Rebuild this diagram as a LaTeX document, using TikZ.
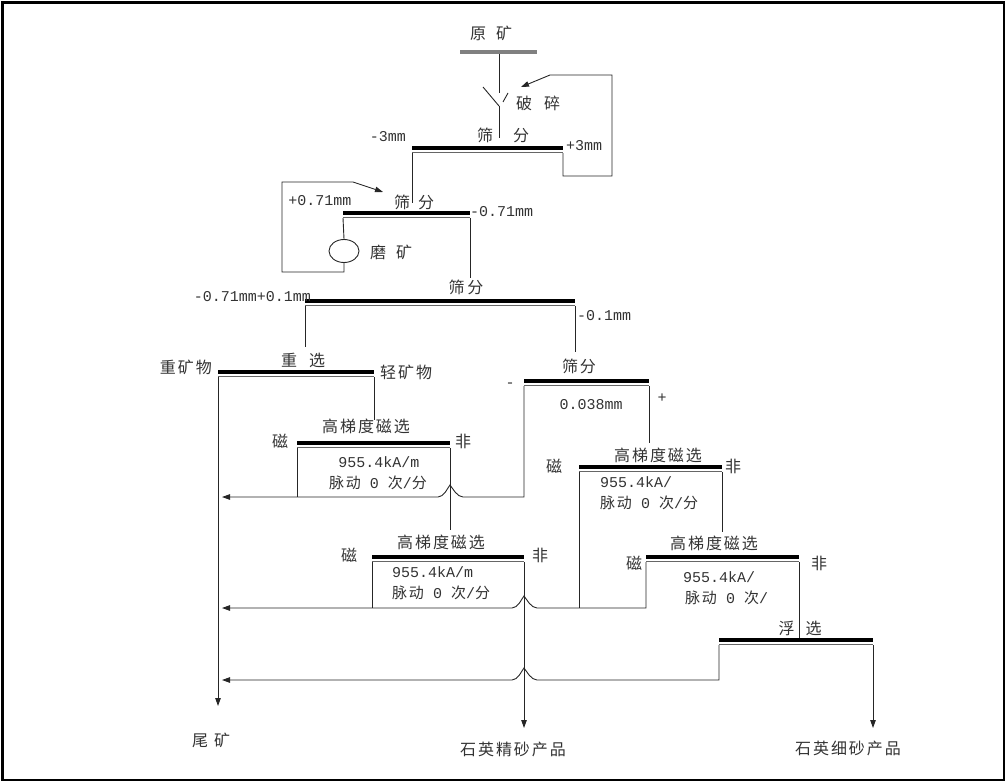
\documentclass[tikz,border=0pt]{standalone}
\usepackage{fontspec}
\setmainfont{Liberation Mono}
\newfontfamily\cjk[LetterSpace=12]{Noto Sans CJK SC}
\usetikzlibrary{arrows.meta,shapes.geometric}
\newcommand\sbar[4]{%
 \draw[barA] (#2,#4) -- (#3,#4);%
 \draw[barB] (#2,#4+4.5) -- (#3,#4+4.5);%
 \coordinate (#1L) at (#2,#4+5);%
 \coordinate (#1R) at (#3,#4+5);}
\newcommand\hopto[1]{-- ([xshift=13pt]#1) .. controls +(-6pt,0pt) and +(2.5pt,-3pt) .. ([yshift=12pt]#1) .. controls +(-2.5pt,-3pt) and +(6pt,0pt) .. ([xshift=-12pt]#1)}
\begin{document}
\begin{tikzpicture}[x=1pt,y=-1pt,
 lin/.style={line width=0.9pt,draw=black!85},
 arr/.style={lin,-{Triangle[length=8pt,width=5.5pt]}},
 barA/.style={line width=3.5pt,draw=black},
 barB/.style={line width=1.5pt,draw=black!60},
 zh/.style={font=\cjk\fontsize{16}{16}\selectfont,text=black!80,inner sep=0pt},
 en/.style={font=\fontsize{15}{15}\selectfont,text=black!80,inner sep=0pt}]
\useasboundingbox (0,0) rectangle (1006,782);
\draw[line width=2.5pt] (2.5,2.5) rectangle (1004,780);

% bars
\draw[line width=4.5pt,draw=black!50] (460,52) -- (537,52);
\coordinate (oreB) at (499,54);
\sbar{sA}{412}{563}{148}
\sbar{sB}{343}{470}{213}
\sbar{sC}{305}{575}{301}
\sbar{gv}{218}{374}{372}
\sbar{sD}{524}{649}{381}
\sbar{mA}{297}{450}{443}
\sbar{mB}{579}{722}{467}
\sbar{mC}{646}{799}{557}
\sbar{mD}{372}{524}{557}
\sbar{fl}{719}{873}{640}

% mill
\node[ellipse,draw=black!85,line width=0.9pt,minimum width=30pt,minimum height=23pt,inner sep=0pt] (mill) at (344,251) {};

% texts
\node[zh] (tOre) at (491,33) {原\hspace{10pt}矿};
\node[zh] (tCrush) at (538,103) {破\hspace{12pt}碎};
\node[zh] (tS1) at (503,135) {筛\hspace{20pt}分};
\node[zh] (tS2) at (414,202) {筛\hspace{8pt}分};
\node[zh] (tMill) at (391,252) {磨\hspace{10pt}矿};
\node[zh] (tS3) at (466,287) {筛\hspace{3pt}分};
\node[zh] (tGrav) at (303,360) {重\hspace{12pt}选};
\node[zh] (tS4) at (579,366) {筛分};
\node[zh,anchor=east] (tHeavy) at (212,367) {重矿物};
\node[zh,anchor=west] (tLight) at (380,372) {轻矿物};
\node[zh] (tM1) at (366,426) {高梯度磁选};
\node[zh] (tM1a) at (280,441) {磁};
\node[zh] (tM1b) at (463,441) {非};
\node[en] (tM1c) at (379,462) {955.4kA/m};
\node[en] (tM1d) at (378,483) {{\cjk 脉动} 0 {\cjk 次}/{\cjk 分}};
\node[zh] (tM2) at (658,455) {高梯度磁选};
\node[zh] (tM2a) at (554,466) {磁};
\node[zh] (tM2b) at (733,466) {非};
\node[en,anchor=west] (tM2c) at (600,482) {955.4kA/};
\node[en,anchor=west] (tM2d) at (600,503) {{\cjk 脉动} 0 {\cjk 次}/{\cjk 分}};
\node[zh] (tM3) at (714,543) {高梯度磁选};
\node[zh] (tM3a) at (634,563) {磁};
\node[zh] (tM3b) at (819,563) {非};
\node[en,anchor=west] (tM3c) at (683,577) {955.4kA/};
\node[en,anchor=west] (tM3d) at (685,598) {{\cjk 脉动} 0 {\cjk 次}/};
\node[zh] (tM4) at (441,542) {高梯度磁选};
\node[zh] (tM4a) at (349,555) {磁};
\node[zh] (tM4b) at (540,555) {非};
\node[en,anchor=west] (tM4c) at (392,572) {955.4kA/m};
\node[en,anchor=west] (tM4d) at (392,593) {{\cjk 脉动} 0 {\cjk 次}/{\cjk 分}};
\node[zh] (tFlot) at (800,628) {浮\hspace{11pt}选};
\node[zh] (tTail) at (211,740) {尾\hspace{6pt}矿};
\node[zh] (tProd1) at (513,749) {石英精砂产品};
\node[zh] (tProd2) at (848,748) {石英细砂产品};

\node[en,anchor=east] (m1) at (406,137) {-3mm};
\node[en,anchor=west] (m2) at (566,146) {+3mm};
\node[en] (m3) at (320,201) {+0.71mm};
\node[en,anchor=west] (m4) at (470,212) {-0.71mm};
\node[en,anchor=east] (m5) at (311,297) {-0.71mm+0.1mm};
\node[en,anchor=west] (m6) at (577,316) {-0.1mm};
\node[en] (m7) at (510,385) {-};
\node[en] (m8) at (591,405) {0.038mm};
\node[en] (m9) at (662,398) {+};

% coordinates
\coordinate (crTop) at (499,93);
\coordinate (yJ) at (499,106);
\coordinate (yL) at (483,87);
\coordinate (yR1) at (508,93);
\coordinate (yR2) at (503,102);
\coordinate (sAin) at (499,138);
\coordinate (r1a) at (563,176);
\coordinate (r1b) at (612,176);
\coordinate (r1c) at (612,75);
\coordinate (r1d) at (550,75);
\coordinate (r1t) at (521,87);
\coordinate (sAout) at (412,203);
\coordinate (r2a) at (344,272);
\coordinate (r2b) at (282,272);
\coordinate (r2c) at (282,182);
\coordinate (r2d) at (353,182);
\coordinate (r2t) at (383,192);
\coordinate (sBout) at (470,278);
\coordinate (sCoutL) at (305,347);
\coordinate (sCoutR) at (575,352);
\coordinate (tailT) at (218,706);
\coordinate (gvOut) at (374,420);
\coordinate (c1) at (524,497);
\coordinate (h1) at (450,497);
\coordinate (t1) at (222,497);
\coordinate (mAj) at (297,497);
\coordinate (mAout) at (450,530);
\coordinate (sDout) at (649,443);
\coordinate (mBj) at (579,608);
\coordinate (mBout) at (722,532);
\coordinate (c2) at (646,608);
\coordinate (h2) at (524,608);
\coordinate (t2) at (222,608);
\coordinate (mCout) at (799,638);
\coordinate (mDj) at (372,608);
\coordinate (p1) at (524,728);
\coordinate (c3) at (719,680);
\coordinate (h3) at (524,680);
\coordinate (t3) at (222,680);
\coordinate (p2) at (873,728);

% connectors
\draw[lin] (oreB) -- (crTop);
\draw[lin] (yL) -- (yJ) (yR1) -- (yR2);
\draw[lin] (yJ) -- (sAin);
\draw[arr] (sAR) -- (r1a) -- (r1b) -- (r1c) -- (r1d) -- (r1t);
\draw[lin] (sAL) -- (sAout);
\draw[lin] (sBL) -- (mill.north);
\draw[arr] (mill.south) -- (r2a) -- (r2b) -- (r2c) -- (r2d) -- (r2t);
\draw[lin] (sBR) -- (sBout);
\draw[lin] (sCL) -- (sCoutL);
\draw[lin] (sCR) -- (sCoutR);
\draw[arr] (gvL) -- (tailT);
\draw[lin] (gvR) -- (gvOut);
\draw[arr] (sDL) -- (c1) \hopto{h1} -- (t1);
\draw[lin] (mAL) -- (mAj);
\draw[lin] (mAR) -- (mAout);
\draw[lin] (sDR) -- (sDout);
\draw[lin] (mBL) -- (mBj);
\draw[lin] (mBR) -- (mBout);
\draw[arr] (mCL) -- (c2) \hopto{h2} -- (t2);
\draw[lin] (mCR) -- (mCout);
\draw[lin] (mDL) -- (mDj);
\draw[arr] (mDR) -- (p1);
\draw[arr] (flL) -- (c3) \hopto{h3} -- (t3);
\draw[arr] (flR) -- (p2);
\end{tikzpicture}
\end{document}
